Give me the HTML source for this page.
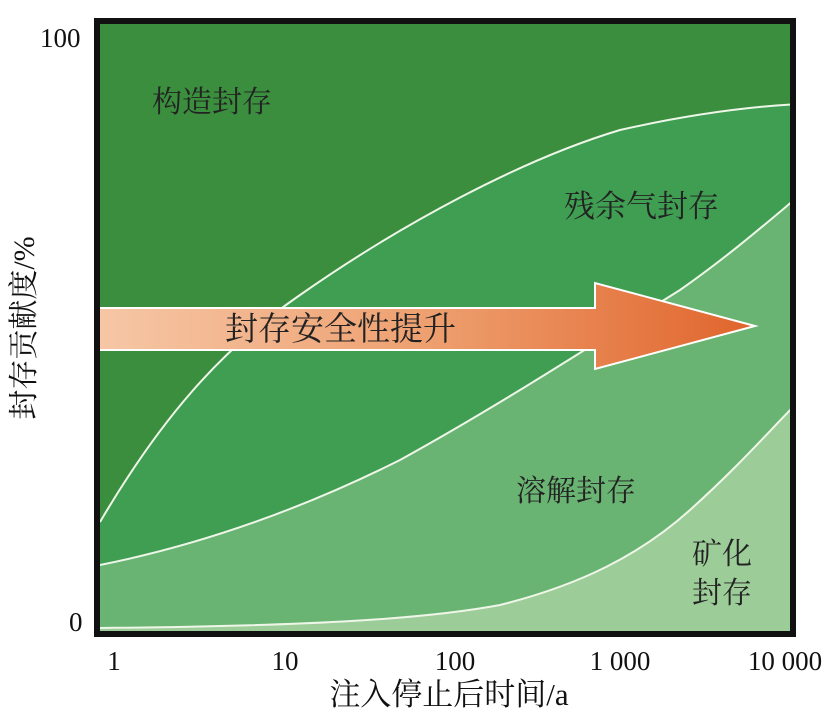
<!DOCTYPE html>
<html><head><meta charset="utf-8"><style>
body{margin:0;background:#fff;}
svg text{font-family:"Liberation Serif","Noto Serif CJK SC",serif;}
</style></head><body>
<svg width="827" height="718" viewBox="0 0 827 718" xmlns="http://www.w3.org/2000/svg">
<defs>
<linearGradient id="ag" x1="0" x2="1" y1="0" y2="0">
<stop offset="0" stop-color="#f6c7a6"/>
<stop offset="0.5" stop-color="#eea070"/>
<stop offset="1" stop-color="#e0642c"/>
</linearGradient>
<clipPath id="cp"><rect x="97" y="21" width="696" height="613"/></clipPath>
</defs>
<g clip-path="url(#cp)">
<rect x="97" y="21" width="696" height="613" fill="#3a8e3d"/>
<path d="M100,522 C160,420 220,350 300,295 C400,225 520,160 620,130 C700,112 760,106 800,104 L800,640 L97,640 Z" fill="#3f9e52"/>
<path d="M100,565 C200,545 300,510 400,460 C500,405 600,340 680,290 C730,255 770,220 800,195 L800,640 L97,640 Z" fill="#6ab473"/>
<path d="M100,628 C300,626 420,620 500,605 C580,585 640,555 690,510 C740,465 770,430 800,400 L800,640 L97,640 Z" fill="#9ccc98"/>
<path d="M100,522 C160,420 220,350 300,295 C400,225 520,160 620,130 C700,112 760,106 800,104" fill="none" stroke="#eef6e8" stroke-width="2"/>
<path d="M100,565 C200,545 300,510 400,460 C500,405 600,340 680,290 C730,255 770,220 800,195" fill="none" stroke="#eef6e8" stroke-width="2"/>
<path d="M100,628 C300,626 420,620 500,605 C580,585 640,555 690,510 C740,465 770,430 800,400" fill="none" stroke="#eef6e8" stroke-width="2"/>
<path d="M97,308 L595,308 L595,283 L755,326 L595,369 L595,350 L97,350 Z" fill="url(#ag)" stroke="#fff" stroke-width="2"/>
</g>
<rect x="97" y="21" width="696" height="613" fill="none" stroke="#111" stroke-width="6"/>
<g font-size="30" fill="#222">
<text x="152" y="112">构造封存</text>
<text x="564" y="217" font-size="31">残余气封存</text>
<text x="225" y="340" font-size="33">封存安全性提升</text>
<text x="516" y="501">溶解封存</text>
<text x="692" y="564">矿化</text>
<text x="692" y="603">封存</text>
</g>
<g font-size="27" fill="#111">
<text x="40" y="47">100</text>
<text x="69" y="631">0</text>
<text x="114" y="670" text-anchor="middle">1</text>
<text x="285" y="670" text-anchor="middle">10</text>
<text x="455" y="670" text-anchor="middle">100</text>
<text x="620" y="670" text-anchor="middle">1 000</text>
<text x="785" y="670" text-anchor="middle">10 000</text>
<text x="449" y="705" text-anchor="middle" font-size="31">注入停止后时间/a</text>
<text transform="translate(34,328) rotate(-90)" text-anchor="middle" font-size="30">封存贡献度/%</text>
</g>
</svg>
</body></html>
